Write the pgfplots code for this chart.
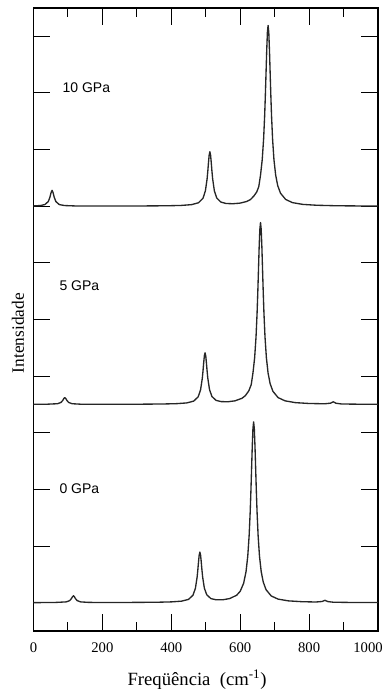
\documentclass[border=0pt]{standalone}
\usepackage{fontspec}
\setmainfont{Liberation Serif}
\newfontfamily\labelsans{Liberation Sans}
\usepackage{pgfplots}
\pgfplotsset{compat=1.18}

% Raman spectra at three pressures, each offset vertically
% (columns: wavenumber in cm^-1, intensity in arbitrary units)

\begin{document}
\begin{tikzpicture}
\begin{axis}[
  scale only axis,
  width=258.4pt, height=467.25pt,
  xmin=0, xmax=1000, ymin=0, ymax=11,
  xtick={0,200,...,1000},
  xticklabels={0,200,400,600,800,\hspace{-15pt}1000},
  minor x tick num=1,
  ytick={0.5,1.5,...,10.5},
  yticklabels={},
  tick align=inside,
  major tick length=12.5pt,
  minor tick length=7pt,
  axis line style={line width=0.9pt},
  every tick/.style={black, line width=0.8pt},
  xticklabel style={font=\fontsize{11}{12}\selectfont, yshift=-5pt},
  xlabel={Freqüência\ \ (cm\textsuperscript{-1})},
  xlabel style={font=\fontsize{14}{16}\selectfont, at={(axis description cs:0.475,0)}, anchor=base, yshift=-40.5pt},
  ylabel={Intensidade},
  ylabel style={font=\fontsize{13}{15}\selectfont, at={(axis description cs:-0.045,0.478)}, anchor=center},
]
\coordinate (bl) at (rel axis cs:0,0);
\coordinate (tr) at (rel axis cs:1,1);

% 0 GPa
\addplot[black!85, line width=1pt, line join=round] table {
0 0.501
60 0.503
95 0.514
105 0.536
110 0.571
113 0.603
116 0.622
119 0.603
122 0.571
127 0.536
137 0.514
160 0.505
220 0.503
300 0.505
360 0.508
400 0.514
430 0.527
450 0.558
463 0.632
470 0.753
475 0.952
477 1.075
479 1.217
481 1.341
483 1.393
485 1.342
487 1.218
489 1.077
491 0.955
496 0.757
503 0.639
515 0.572
530 0.551
550 0.552
570 0.573
590 0.633
600 0.701
610 0.843
617 1.049
622 1.323
626 1.689
629 2.098
631 2.448
633 2.849
635 3.253
637 3.570
639 3.693
641 3.570
643 3.252
645 2.848
647 2.447
649 2.097
652 1.689
656 1.322
661 1.048
667 0.863
675 0.730
690 0.619
710 0.563
740 0.532
780 0.517
820 0.512
838 0.521
842 0.532
846 0.542
850 0.531
854 0.520
870 0.508
920 0.504
1000 0.502
};

% 5 GPa
\addplot[black!85, line width=1pt, line join=round] table {
0 4.002
35 4.003
70 4.013
80 4.036
85 4.071
88 4.103
91 4.121
94 4.103
97 4.071
102 4.036
112 4.013
135 4.005
200 4.003
300 4.004
375 4.008
415 4.014
445 4.027
465 4.059
478 4.134
485 4.258
490 4.461
492 4.587
494 4.732
496 4.859
498 4.912
500 4.860
502 4.733
504 4.589
506 4.464
511 4.262
518 4.140
530 4.072
545 4.050
565 4.048
585 4.064
605 4.108
615 4.155
625 4.240
632 4.349
637 4.553
642 4.828
646 5.196
649 5.608
651 5.960
653 6.363
655 6.770
657 7.089
659 7.213
661 7.089
663 6.770
665 6.363
667 5.959
669 5.607
672 5.195
676 4.827
681 4.552
687 4.365
695 4.232
710 4.121
730 4.064
760 4.032
800 4.017
845 4.012
862 4.022
866 4.035
870 4.047
874 4.035
878 4.021
895 4.008
950 4.004
1000 4.003
};

% 10 GPa
\addplot[black!85, line width=1pt, line join=round] table {
0 7.505
20 7.512
33 7.529
43 7.582
48 7.663
51 7.738
54 7.781
57 7.738
60 7.663
65 7.582
75 7.529
90 7.512
120 7.505
200 7.503
300 7.504
389 7.508
429 7.514
459 7.528
479 7.561
492 7.640
499 7.771
504 7.985
506 8.118
508 8.271
510 8.405
512 8.461
514 8.406
516 8.272
518 8.120
520 7.987
525 7.774
532 7.645
544 7.573
559 7.548
579 7.544
599 7.554
619 7.584
630 7.618
640 7.683
648 7.751
654 7.847
659 8.049
664 8.323
668 8.689
671 9.098
673 9.448
675 9.848
677 10.253
679 10.570
681 10.692
683 10.569
685 10.252
687 9.847
689 9.447
691 9.097
694 8.688
698 8.322
703 8.048
709 7.862
717 7.730
732 7.619
752 7.563
782 7.532
822 7.517
880 7.508
940 7.505
1000 7.503
};

\node[anchor=west, font=\labelsans\fontsize{10.5}{12}\selectfont] at (axis cs:71,9.59) {10 GPa};
\node[anchor=west, font=\labelsans\fontsize{10.5}{12}\selectfont] at (axis cs:62,6.10) {5 GPa};
\node[anchor=west, font=\labelsans\fontsize{10.5}{12}\selectfont] at (axis cs:62,2.52) {0 GPa};
\end{axis}
\pgfresetboundingbox
\path ([shift={(-25.1pt,-45pt)}]bl) rectangle ([shift={(3.75pt,6pt)}]tr);
\end{tikzpicture}
\end{document}
